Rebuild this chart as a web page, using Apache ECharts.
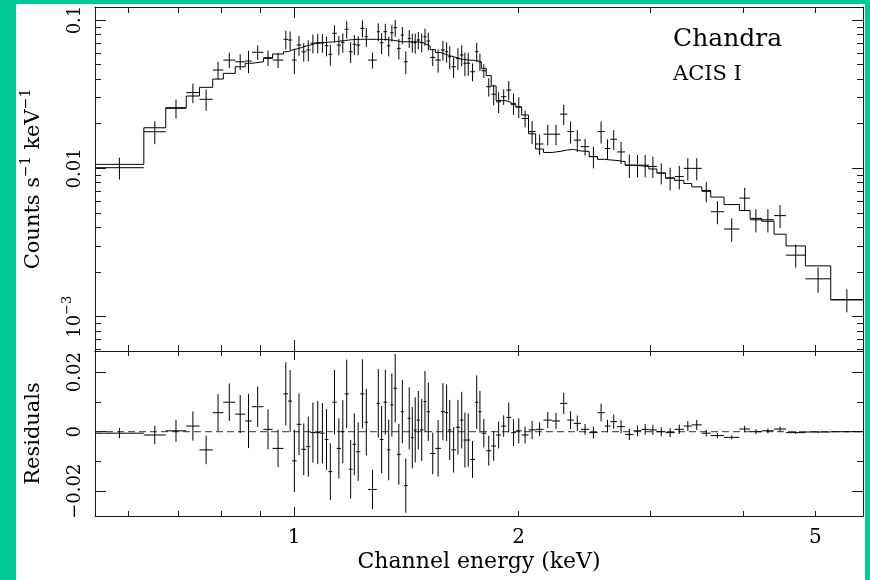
<!DOCTYPE html>
<html><head><meta charset="utf-8">
<script src="https://cdn.jsdelivr.net/npm/echarts@6/dist/echarts.min.js"></script>
<style>
html,body{margin:0;padding:0;background:#00c896;}
#wrap{position:relative;width:870px;height:580px;background:#00c896;overflow:hidden}
#chart{position:absolute;left:16px;top:4px;width:849px;height:576px;background:#fff}
</style></head><body>
<div id="wrap"><div id="chart"></div></div>
<script>
// ---- data ----
const binEdges = [0.541,0.629,0.673,0.717,0.747,0.778,0.804,0.834,0.860,0.878,0.910,0.936,0.968,0.982,0.994,1.008,1.023,1.038,1.052,1.068,1.084,1.099,1.112,1.125,1.141,1.156,1.169,1.184,1.198,1.211,1.227,1.243,1.257,1.291,1.303,1.318,1.333,1.346,1.359,1.374,1.390,1.404,1.420,1.434,1.447,1.460,1.475,1.491,1.505,1.522,1.547,1.573,1.594,1.609,1.625,1.648,1.669,1.687,1.702,1.722,1.748,1.767,1.783,1.810,1.838,1.866,1.895,1.925,1.955,1.983,2.019,2.062,2.108,2.160,2.217,2.273,2.325,2.371,2.424,2.487,2.552,2.608,2.655,2.710,2.778,2.852,2.922,2.990,3.065,3.148,3.238,3.331,3.413,3.520,3.619,3.771,3.953,4.086,4.236,4.400,4.566,4.847,5.241,5.79];
const counts = [0.0101,0.01765,0.0254,0.0324,0.0292,0.0460,0.0537,0.0523,0.0529,0.0606,0.0557,0.0537,0.0741,0.0733,0.0537,0.0678,0.0611,0.0628,0.0697,0.0703,0.0703,0.0671,0.0587,0.0813,0.0678,0.0707,0.0866,0.0611,0.0686,0.0678,0.0879,0.0772,0.0537,0.0834,0.0703,0.0834,0.0671,0.0821,0.0887,0.0644,0.0792,0.0523,0.0752,0.0707,0.0703,0.0733,0.0707,0.0772,0.0722,0.0560,0.0537,0.0628,0.0611,0.0566,0.0484,0.0552,0.0581,0.0511,0.0511,0.0448,0.0611,0.0523,0.0455,0.0355,0.0316,0.0281,0.0304,0.0337,0.0274,0.0260,0.0217,0.0177,0.0146,0.0170,0.0170,0.0232,0.0177,0.0155,0.0140,0.0120,0.0177,0.0136,0.0157,0.0129,0.0105,0.0105,0.0105,0.0103,0.0093,0.0086,0.0088,0.0100,0.0100,0.0070,0.0051,0.0039,0.0063,0.0045,0.0045,0.0048,0.0026,0.0018,0.0013];
const countErr = [0.0017,0.0031,0.0037,0.0049,0.0048,0.0062,0.0063,0.0064,0.0091,0.0068,0.0067,0.0063,0.0106,0.0104,0.0105,0.0104,0.0087,0.0101,0.0101,0.0106,0.0101,0.0102,0.0095,0.0108,0.0101,0.0106,0.0115,0.0098,0.0104,0.0098,0.0116,0.0112,0.0066,0.0115,0.0113,0.0109,0.0102,0.0106,0.0115,0.0102,0.0106,0.0091,0.0104,0.0103,0.0109,0.0098,0.0104,0.0103,0.0098,0.0070,0.0095,0.0096,0.0095,0.0101,0.0076,0.0092,0.0095,0.0092,0.0090,0.0062,0.0090,0.0070,0.0048,0.0050,0.0050,0.0045,0.0036,0.0050,0.0045,0.0042,0.0028,0.0031,0.0023,0.0027,0.0027,0.0036,0.0030,0.0026,0.0018,0.0020,0.0030,0.0021,0.0024,0.0022,0.0019,0.0018,0.0018,0.0017,0.0015,0.0015,0.0016,0.0017,0.0017,0.0011,0.0009,0.0007,0.0011,0.0008,0.0008,0.00085,0.00046,0.00035,0.00023];
const model = [0.01064,0.01878,0.02563,0.03073,0.03517,0.0400,0.0437,0.0484,0.0511,0.0523,0.0552,0.0590,0.0611,0.0628,0.0637,0.0652,0.0668,0.0678,0.0694,0.0700,0.0704,0.0709,0.0711,0.0715,0.0722,0.0728,0.0733,0.0737,0.0740,0.0741,0.0741,0.0741,0.0741,0.0741,0.0740,0.0738,0.0734,0.0730,0.0723,0.0716,0.0714,0.0714,0.0714,0.0714,0.0714,0.0709,0.0700,0.0686,0.0668,0.0632,0.0604,0.0588,0.0581,0.0572,0.0560,0.0547,0.0542,0.0539,0.0537,0.0534,0.0529,0.0517,0.0472,0.0422,0.0359,0.0287,0.0286,0.0278,0.0269,0.0259,0.0229,0.0171,0.0135,0.0128,0.0130,0.0133,0.0134,0.0131,0.0130,0.0120,0.0115,0.0114,0.0113,0.0111,0.0105,0.0104,0.0103,0.0099,0.0093,0.0086,0.0083,0.0079,0.0075,0.0071,0.0064,0.0057,0.0052,0.0046,0.0044,0.0036,0.0030,0.0022,0.0013];
const resid = [-0.0005,-0.0011,0.0003,0.0019,-0.0061,0.0064,0.0099,0.0059,0.0036,0.0084,0.0008,-0.0056,0.0127,0.0103,-0.0098,0.0025,-0.0059,-0.0050,-0.0003,-0.0003,-0.0005,-0.0026,-0.0134,0.0099,-0.0056,0.0000,0.0127,-0.0126,-0.0042,-0.0067,0.0127,0.0032,-0.0194,0.0095,-0.0026,0.0099,-0.0061,0.0090,0.0146,-0.0076,0.0067,-0.0181,0.0045,-0.0020,0.0006,0.0039,0.0006,0.0101,0.0067,-0.0073,-0.0056,0.0067,0.0064,0.0006,-0.0061,0.0015,0.0039,-0.0028,-0.0028,-0.0093,0.0099,0.0067,-0.0005,-0.0064,-0.0048,-0.0011,0.0019,0.0048,-0.0003,0.0003,-0.0011,0.0006,0.0008,0.0039,0.0036,0.0095,0.0039,0.0028,0.0008,-0.0003,0.0064,0.0019,0.0034,0.0017,-0.0009,0.0003,0.0008,0.0006,0.0000,-0.0003,0.0008,0.0019,0.0023,-0.0005,-0.0013,-0.0019,0.0009,0.0000,0.0003,0.0009,-0.0003,-0.0001,0.0000];

const xRange = [0.541, 5.79];
const yRange = [0.000587, 0.1224];
const rRange = [-0.0283, 0.0271];
const xMajorTicks = [1];
const xMinorTicks = [0.6,0.7,0.8,0.9,2,3,4,5];
const xTickLabels = [1,2,5];
const yMajorTicks = [0.001,0.01,0.1];
const yMinorTicks = [0.0006,0.0007,0.0008,0.0009,0.002,0.003,0.004,0.005,0.006,0.007,0.008,0.009,0.02,0.03,0.04,0.05,0.06,0.07,0.08,0.09];
const rMajorTicks = [-0.02,0,0.02];
const rMinorTicks = [-0.01,0.01];

const FONT = 'DejaVu Serif';
const INK = '#1a1a1a';

// ---- build option ----
const n = Math.min(counts.length, binEdges.length - 1);
const cntData = [], resData = [], modelLine = [];
for (let i = 0; i < n; i++) {
  const lo = binEdges[i], hi = binEdges[i + 1], c = Math.sqrt(lo * hi);
  cntData.push([lo, hi, c, counts[i], countErr[i]]);
  resData.push([lo, hi, c, resid[i], countErr[i]]);
  modelLine.push([lo, model[i]], [hi, model[i]]);
}

function crossRender(params, api) {
  const lo = api.value(0), hi = api.value(1), c = api.value(2), v = api.value(3), e = api.value(4);
  const a = api.coord([lo, v]), b = api.coord([hi, v]);
  const t = api.coord([c, v + e]), d = api.coord([c, v - e]);
  const st = { stroke: '#000', lineWidth: 1 };
  return { type: 'group', children: [
    { type: 'line', shape: { x1: a[0], y1: a[1], x2: b[0], y2: b[1] }, style: st },
    { type: 'line', shape: { x1: t[0], y1: t[1], x2: d[0], y2: d[1] }, style: st }
  ]};
}

function baseAxis(extra) {
  return Object.assign({
    splitLine: { show: false }, minorTick: { show: false }, minorSplitLine: { show: false },
    axisPointer: { show: false }, axisLabel: { show: false }, nameMoveOverlap: false
  }, extra);
}
function xAxisDef(grid, pos, ticks, len, line, more) {
  return baseAxis(Object.assign({
    type: 'log', logBase: 10, gridIndex: grid, position: pos, min: xRange[0], max: xRange[1],
    axisLine: { show: line, onZero: false, lineStyle: { color: INK, width: 1 } },
    axisTick: { show: true, inside: true, length: len, customValues: ticks, lineStyle: { color: INK, width: 1 } }
  }, more || {}));
}
function yAxisDef(grid, pos, type, range, ticks, len, line, more) {
  const o = {
    type: type, gridIndex: grid, position: pos, min: range[0], max: range[1],
    axisLine: { show: line, onZero: false, lineStyle: { color: INK, width: 1 } },
    axisTick: { show: true, inside: true, length: len, customValues: ticks, lineStyle: { color: INK, width: 1 } }
  };
  if (type === 'log') o.logBase = 10;
  return baseAxis(Object.assign(o, more || {}));
}

const labelStyle = { color: '#000', fontFamily: FONT };

const option = {
  animation: false,
  backgroundColor: '#ffffff',
  title: [
    { text: 'Chandra', left: 657, top: 23, padding: 0,
      textStyle: { fontFamily: FONT, fontSize: 25, fontWeight: 'normal', color: '#000', lineHeight: 25 } },
    { text: 'ACIS I', left: 657, top: 60, padding: 0,
      textStyle: { fontFamily: FONT, fontSize: 21, fontWeight: 'normal', color: '#000', lineHeight: 21 } }
  ],
  grid: [
    { left: 79, top: 3, width: 768, height: 344, containLabel: false, outerBoundsMode: 'none', show: false },
    { left: 79, top: 347, width: 768, height: 165, containLabel: false, outerBoundsMode: 'none', show: false }
  ],
  xAxis: [
    xAxisDef(0, 'bottom', xMajorTicks, 11, true),
    xAxisDef(0, 'bottom', xMinorTicks, 6, false),
    xAxisDef(0, 'top', xMajorTicks, 11, true),
    xAxisDef(0, 'top', xMinorTicks, 6, false),
    xAxisDef(1, 'bottom', xMajorTicks, 9, true, {
      axisLabel: { show: true, customValues: xTickLabels, margin: 12, fontSize: 20, ...labelStyle,
        formatter: v => String(Math.round(v)) },
      name: 'Channel energy (keV)', nameLocation: 'middle', nameGap: 35,
      nameTextStyle: { fontFamily: FONT, fontSize: 22, color: '#000', lineHeight: 22 }
    }),
    xAxisDef(1, 'bottom', xMinorTicks, 5, false),
    xAxisDef(1, 'top', xMajorTicks, 9, true),
    xAxisDef(1, 'top', xMinorTicks, 5, false)
  ],
  yAxis: [
    yAxisDef(0, 'left', 'log', yRange, yMajorTicks, 11, true, {
      axisLabel: { show: true, customValues: yMajorTicks, rotate: 90, margin: 6, fontSize: 18, lineHeight: 28, ...labelStyle,
        formatter: v => {
          const e = Math.round(Math.log10(v));
          if (e === -3) return '{b|10}{s|\u22123}';
          return e === -1 ? '0.1' : (e === -2 ? '0.01' : String(v));
        },
        rich: { b: { fontFamily: FONT, fontSize: 18, lineHeight: 28, color: '#000' },
                s: { fontFamily: FONT, fontSize: 13, lineHeight: 12, verticalAlign: 'top', color: '#000' } } },
      name: '{a|Counts s}{sup|\u22121}{a| keV}{sup|\u22121}', nameLocation: 'middle', nameGap: 46,
      nameTextStyle: { fontFamily: FONT, fontSize: 21, color: '#000', lineHeight: 30,
        rich: { a: { fontFamily: FONT, fontSize: 21, lineHeight: 30, color: '#000' },
                sup: { fontFamily: FONT, fontSize: 14, lineHeight: 14, verticalAlign: 'top', color: '#000' } } }
    }),
    yAxisDef(0, 'left', 'log', yRange, yMinorTicks, 6, false),
    yAxisDef(0, 'right', 'log', yRange, yMajorTicks, 11, true),
    yAxisDef(0, 'right', 'log', yRange, yMinorTicks, 6, false),
    yAxisDef(1, 'left', 'value', rRange, rMajorTicks, 11, true, {
      axisLabel: { show: true, customValues: rMajorTicks, rotate: 90, margin: 6, fontSize: 18, lineHeight: 28, ...labelStyle,
        formatter: v => Math.abs(v) < 1e-9 ? '0' : (v < 0 ? '\u2212' : '') + Math.abs(v).toFixed(2) },
      name: 'Residuals', nameLocation: 'middle', nameGap: 46,
      nameTextStyle: { fontFamily: FONT, fontSize: 21, color: '#000', lineHeight: 30 }
    }),
    yAxisDef(1, 'left', 'value', rRange, rMinorTicks, 6, false),
    yAxisDef(1, 'right', 'value', rRange, rMajorTicks, 11, true),
    yAxisDef(1, 'right', 'value', rRange, rMinorTicks, 6, false)
  ],
  series: [
    { name: 'model', type: 'line', xAxisIndex: 0, yAxisIndex: 0, data: modelLine, symbol: 'none',
      lineStyle: { color: '#000', width: 1 }, silent: true, z: 3 },
    { name: 'counts', type: 'custom', xAxisIndex: 0, yAxisIndex: 0, data: cntData,
      encode: { x: [0, 1], y: 3 }, renderItem: crossRender, silent: true, z: 4 },
    { name: 'zero', type: 'line', xAxisIndex: 4, yAxisIndex: 4, data: [[xRange[0], 0], [xRange[1], 0]], symbol: 'none',
      lineStyle: { color: '#333', width: 1, type: [7, 4] }, silent: true, z: 3 },
    { name: 'residuals', type: 'custom', xAxisIndex: 4, yAxisIndex: 4, data: resData,
      encode: { x: [0, 1], y: 3 }, renderItem: crossRender, silent: true, z: 4 }
  ]
};

const chart = echarts.init(document.getElementById('chart'), null, { renderer: 'canvas' });
chart.setOption(option);
</script>
</body></html>
